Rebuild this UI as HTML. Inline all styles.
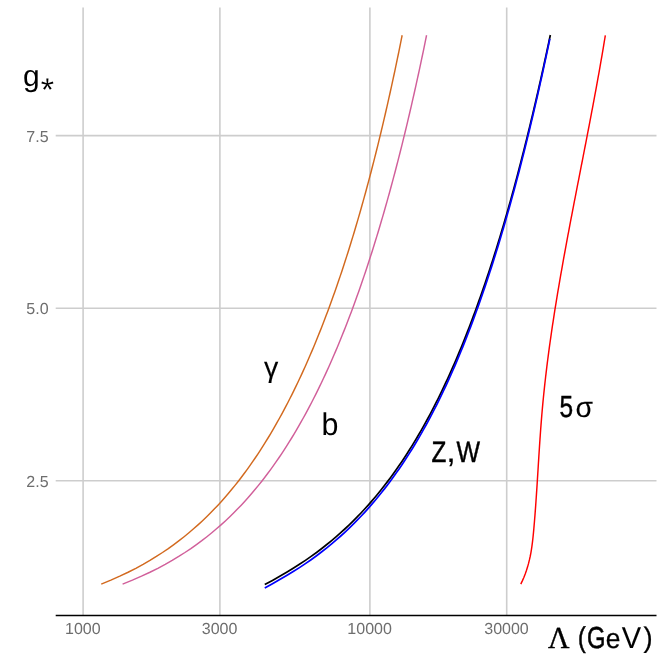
<!DOCTYPE html>
<html><head><meta charset="utf-8"><title>chart</title>
<style>
html,body{margin:0;padding:0;background:#fff;}
body{width:664px;height:664px;overflow:hidden;font-family:"Liberation Sans",sans-serif;}
svg{display:block;will-change:transform}
text{font-family:"Liberation Sans",sans-serif;text-rendering:geometricPrecision}
.tk{font-size:16px;fill:#6e6e6e}
.lb{font-size:28px;fill:#000}
.g{stroke:#cdcdcd;stroke-width:1.6;fill:none}
.c{fill:none;stroke-linecap:butt;stroke-linejoin:round}
</style></head><body>
<svg width="664" height="664" viewBox="0 0 664 664">
<g class="g">
<line x1="83.1" y1="7.6" x2="83.1" y2="615"/>
<line x1="219.9" y1="7.6" x2="219.9" y2="615"/>
<line x1="369.9" y1="7.6" x2="369.9" y2="615"/>
<line x1="506.7" y1="7.6" x2="506.7" y2="615"/>
<line x1="55.7" y1="135.6" x2="656.5" y2="135.6"/>
<line x1="55.7" y1="308.3" x2="656.5" y2="308.3"/>
<line x1="55.7" y1="480.8" x2="656.5" y2="480.8"/>
</g>
<line x1="55.7" y1="615.45" x2="656.5" y2="615.45" stroke="#000" stroke-width="1.6"/>
<path class="c" d="M101.24 584.10 L110.87 580.15 L119.79 576.20 L128.08 572.25 L135.83 568.31 L143.09 564.36 L149.93 560.41 L156.38 556.46 L162.49 552.51 L168.29 548.56 L173.81 544.61 L179.07 540.67 L184.11 536.72 L188.93 532.77 L193.56 528.82 L198.01 524.87 L202.29 520.92 L206.42 516.97 L210.41 513.03 L214.26 509.08 L217.99 505.13 L221.60 501.18 L225.10 497.23 L228.51 493.28 L231.81 489.33 L235.02 485.39 L238.15 481.44 L241.20 477.49 L244.17 473.54 L247.07 469.59 L249.90 465.64 L252.66 461.69 L255.36 457.75 L258.00 453.80 L260.58 449.85 L263.11 445.90 L265.58 441.95 L268.01 438.00 L270.39 434.05 L272.72 430.11 L275.01 426.16 L277.25 422.21 L279.46 418.26 L281.62 414.31 L283.75 410.36 L285.84 406.41 L287.90 402.47 L289.92 398.52 L291.91 394.57 L293.86 390.62 L295.79 386.67 L297.68 382.72 L299.55 378.77 L301.39 374.83 L303.20 370.88 L304.99 366.93 L306.75 362.98 L308.48 359.03 L310.19 355.08 L311.88 351.13 L313.55 347.19 L315.19 343.24 L316.81 339.29 L318.41 335.34 L319.99 331.39 L321.55 327.44 L323.09 323.49 L324.61 319.55 L326.11 315.60 L327.60 311.65 L329.06 307.70 L330.51 303.75 L331.94 299.80 L333.36 295.86 L334.76 291.91 L336.14 287.96 L337.51 284.01 L338.86 280.06 L340.20 276.11 L341.53 272.16 L342.84 268.22 L344.13 264.27 L345.41 260.32 L346.68 256.37 L347.94 252.42 L349.18 248.47 L350.41 244.52 L351.63 240.58 L352.84 236.63 L354.03 232.68 L355.21 228.73 L356.38 224.78 L357.54 220.83 L358.69 216.88 L359.83 212.94 L360.96 208.99 L362.07 205.04 L363.18 201.09 L364.28 197.14 L365.36 193.19 L366.44 189.24 L367.51 185.30 L368.56 181.35 L369.61 177.40 L370.65 173.45 L371.68 169.50 L372.70 165.55 L373.71 161.60 L374.72 157.66 L375.71 153.71 L376.70 149.76 L377.68 145.81 L378.65 141.86 L379.61 137.91 L380.56 133.96 L381.51 130.02 L382.45 126.07 L383.38 122.12 L384.31 118.17 L385.22 114.22 L386.13 110.27 L387.03 106.32 L387.93 102.38 L388.82 98.43 L389.70 94.48 L390.57 90.53 L391.44 86.58 L392.30 82.63 L393.16 78.68 L394.01 74.74 L394.85 70.79 L395.68 66.84 L396.51 62.89 L397.34 58.94 L398.16 54.99 L398.97 51.04 L399.77 47.10 L400.57 43.15 L401.37 39.20 L402.16 35.25" stroke="#d2691e" stroke-width="1.45"/>
<path class="c" d="M122.60 584.10 L132.41 580.15 L141.49 576.20 L149.94 572.25 L157.82 568.31 L165.21 564.36 L172.17 560.41 L178.73 556.46 L184.94 552.51 L190.84 548.56 L196.45 544.61 L201.80 540.67 L206.91 536.72 L211.81 532.77 L216.50 528.82 L221.01 524.87 L225.35 520.92 L229.53 516.97 L233.57 513.03 L237.46 509.08 L241.23 505.13 L244.89 501.18 L248.43 497.23 L251.86 493.28 L255.20 489.33 L258.44 485.39 L261.59 481.44 L264.67 477.49 L267.66 473.54 L270.58 469.59 L273.43 465.64 L276.21 461.69 L278.92 457.75 L281.58 453.80 L284.18 449.85 L286.72 445.90 L289.21 441.95 L291.65 438.00 L294.03 434.05 L296.38 430.11 L298.67 426.16 L300.93 422.21 L303.14 418.26 L305.31 414.31 L307.45 410.36 L309.55 406.41 L311.61 402.47 L313.63 398.52 L315.63 394.57 L317.59 390.62 L319.52 386.67 L321.42 382.72 L323.29 378.77 L325.13 374.83 L326.95 370.88 L328.74 366.93 L330.50 362.98 L332.24 359.03 L333.96 355.08 L335.65 351.13 L337.32 347.19 L338.96 343.24 L340.59 339.29 L342.19 335.34 L343.77 331.39 L345.33 327.44 L346.88 323.49 L348.40 319.55 L349.91 315.60 L351.39 311.65 L352.86 307.70 L354.32 303.75 L355.75 299.80 L357.17 295.86 L358.57 291.91 L359.96 287.96 L361.33 284.01 L362.69 280.06 L364.03 276.11 L365.36 272.16 L366.68 268.22 L367.98 264.27 L369.26 260.32 L370.54 256.37 L371.80 252.42 L373.05 248.47 L374.28 244.52 L375.51 240.58 L376.72 236.63 L377.92 232.68 L379.11 228.73 L380.28 224.78 L381.45 220.83 L382.61 216.88 L383.75 212.94 L384.88 208.99 L386.01 205.04 L387.12 201.09 L388.22 197.14 L389.32 193.19 L390.40 189.24 L391.48 185.30 L392.54 181.35 L393.60 177.40 L394.65 173.45 L395.69 169.50 L396.72 165.55 L397.74 161.60 L398.75 157.66 L399.75 153.71 L400.75 149.76 L401.74 145.81 L402.72 141.86 L403.69 137.91 L404.66 133.96 L405.62 130.02 L406.56 126.07 L407.51 122.12 L408.44 118.17 L409.37 114.22 L410.29 110.27 L411.21 106.32 L412.11 102.38 L413.01 98.43 L413.91 94.48 L414.80 90.53 L415.68 86.58 L416.55 82.63 L417.42 78.68 L418.28 74.74 L419.14 70.79 L419.99 66.84 L420.83 62.89 L421.67 58.94 L422.50 54.99 L423.33 51.04 L424.15 47.10 L424.96 43.15 L425.77 39.20 L426.58 35.25" stroke="#d15f9a" stroke-width="1.45"/>
<path class="c" d="M264.77 584.60 L272.47 580.40 L279.75 576.31 L286.65 572.29 L293.21 568.29 L299.45 564.32 L305.41 560.35 L311.10 556.40 L316.55 552.44 L321.78 548.49 L326.79 544.54 L331.62 540.59 L336.27 536.65 L340.75 532.70 L345.07 528.75 L349.24 524.81 L353.28 520.86 L357.20 516.91 L360.98 512.97 L364.66 509.02 L368.23 505.07 L371.69 501.13 L375.06 497.18 L378.34 493.23 L381.53 489.29 L384.64 485.34 L387.67 481.39 L390.63 477.45 L393.51 473.50 L396.33 469.55 L399.08 465.61 L401.77 461.66 L404.40 457.72 L406.97 453.77 L409.49 449.82 L411.96 445.88 L414.38 441.93 L416.75 437.98 L419.07 434.04 L421.35 430.09 L423.58 426.14 L425.78 422.20 L427.93 418.25 L430.05 414.30 L432.13 410.36 L434.17 406.41 L436.18 402.47 L438.16 398.52 L440.10 394.57 L442.02 390.63 L443.90 386.68 L445.75 382.73 L447.58 378.79 L449.38 374.84 L451.15 370.89 L452.90 366.95 L454.62 363.00 L456.32 359.06 L457.99 355.11 L459.64 351.16 L461.27 347.22 L462.88 343.27 L464.46 339.32 L466.03 335.38 L467.58 331.43 L469.10 327.48 L470.61 323.54 L472.10 319.59 L473.57 315.64 L475.03 311.70 L476.47 307.75 L477.89 303.81 L479.29 299.86 L480.68 295.92 L482.06 292.00 L483.42 288.08 L484.76 284.16 L486.09 280.24 L487.41 276.32 L488.71 272.40 L490.00 268.48 L491.28 264.57 L492.54 260.65 L493.79 256.73 L495.03 252.81 L496.26 248.89 L497.47 244.97 L498.68 241.05 L499.87 237.13 L501.05 233.21 L502.22 229.29 L503.38 225.37 L504.53 221.46 L505.67 217.54 L506.80 213.62 L507.93 209.70 L509.04 205.78 L510.14 201.86 L511.23 197.94 L512.32 194.02 L513.39 190.10 L514.46 186.18 L515.52 182.26 L516.56 178.35 L517.61 174.43 L518.64 170.51 L519.67 166.59 L520.68 162.67 L521.69 158.75 L522.70 154.83 L523.69 150.91 L524.68 146.99 L525.66 143.07 L526.64 139.15 L527.60 135.24 L528.56 131.32 L529.52 127.40 L530.47 123.48 L531.41 119.56 L532.34 115.64 L533.27 111.72 L534.19 107.80 L535.11 103.88 L536.02 99.96 L536.93 96.04 L537.83 92.13 L538.72 88.21 L539.61 84.29 L540.49 80.37 L541.37 76.45 L542.24 72.53 L543.11 68.61 L543.97 64.69 L544.82 60.77 L545.67 56.85 L546.52 52.93 L547.36 49.02 L548.20 45.10 L549.03 41.18 L549.86 37.26 L550.34 35.00" stroke="#000" stroke-width="1.7"/>
<path class="c" d="M264.77 587.90 L272.47 583.70 L279.75 579.61 L286.65 575.59 L293.21 571.59 L299.45 567.62 L305.41 563.65 L311.10 559.70 L316.55 555.74 L321.78 551.79 L326.79 547.84 L331.62 543.89 L336.27 539.95 L340.75 536.00 L345.07 532.05 L349.24 528.11 L353.28 524.16 L357.20 520.21 L360.98 516.27 L364.66 512.32 L368.23 508.37 L371.69 504.43 L375.06 500.48 L378.34 496.53 L381.53 492.59 L384.64 488.64 L387.67 484.69 L390.63 480.75 L393.51 476.80 L396.33 472.85 L399.08 468.91 L401.77 464.96 L404.40 461.02 L406.97 457.07 L409.49 453.12 L411.96 449.18 L414.38 445.23 L416.75 441.28 L419.07 437.34 L421.35 433.39 L423.58 429.44 L425.78 425.50 L427.93 421.55 L430.05 417.60 L432.13 413.66 L434.17 409.71 L436.18 405.77 L438.16 401.82 L440.10 397.87 L442.02 393.93 L443.90 389.98 L445.75 386.03 L447.58 382.09 L449.38 378.14 L451.15 374.19 L452.90 370.25 L454.62 366.30 L456.32 362.36 L457.99 358.41 L459.64 354.46 L461.27 350.52 L462.88 346.57 L464.46 342.62 L466.03 338.68 L467.58 334.73 L469.10 330.78 L470.61 326.84 L472.10 322.89 L473.57 318.94 L475.03 315.00 L476.47 311.05 L477.89 307.11 L479.29 303.16 L480.68 299.21 L482.06 295.27 L483.42 291.32 L484.76 287.37 L486.09 283.43 L487.41 279.48 L488.71 275.53 L490.00 271.59 L491.28 267.64 L492.54 263.69 L493.79 259.75 L495.03 255.80 L496.26 251.86 L497.47 247.91 L498.68 243.96 L499.87 240.02 L501.05 236.07 L502.22 232.12 L503.38 228.18 L504.53 224.23 L505.67 220.28 L506.80 216.34 L507.93 212.39 L509.04 208.45 L510.14 204.50 L511.23 200.55 L512.32 196.61 L513.39 192.66 L514.46 188.71 L515.52 184.77 L516.56 180.82 L517.61 176.87 L518.64 172.93 L519.67 168.98 L520.68 165.03 L521.69 161.09 L522.70 157.14 L523.69 153.20 L524.68 149.25 L525.66 145.30 L526.64 141.36 L527.60 137.41 L528.56 133.46 L529.52 129.52 L530.47 125.57 L531.41 121.62 L532.34 117.68 L533.27 113.73 L534.19 109.79 L535.11 105.84 L536.02 101.89 L536.93 97.95 L537.83 94.00 L538.72 90.05 L539.61 86.11 L540.49 82.16 L541.37 78.21 L542.24 74.27 L543.11 70.32 L543.97 66.37 L544.82 62.43 L545.67 58.48 L546.52 54.54 L547.36 50.59 L548.20 46.64 L549.03 42.70 L549.86 38.75" stroke="#0000ff" stroke-width="1.7"/>
<path class="c" d="M520.79 584.10 L522.45 580.65 L523.95 577.20 L525.30 573.75 L526.51 570.29 L527.59 566.84 L528.56 563.39 L529.41 559.94 L530.17 556.49 L530.84 553.04 L531.42 549.58 L531.94 546.13 L532.40 542.68 L532.80 539.23 L533.17 535.78 L533.50 532.33 L533.82 528.87 L534.12 525.42 L534.41 521.97 L534.69 518.52 L534.97 515.07 L535.23 511.62 L535.49 508.17 L535.74 504.71 L535.98 501.26 L536.22 497.81 L536.45 494.36 L536.68 490.91 L536.91 487.46 L537.13 484.00 L537.35 480.55 L537.56 477.10 L537.78 473.65 L537.99 470.20 L538.21 466.75 L538.42 463.29 L538.64 459.84 L538.85 456.39 L539.07 452.94 L539.30 449.49 L539.52 446.04 L539.75 442.59 L539.99 439.13 L540.23 435.68 L540.47 432.23 L540.72 428.78 L540.98 425.33 L541.25 421.88 L541.53 418.42 L541.81 414.97 L542.11 411.52 L542.41 408.07 L542.73 404.62 L543.05 401.17 L543.39 397.72 L543.74 394.26 L544.09 390.81 L544.46 387.36 L544.83 383.91 L545.22 380.46 L545.61 377.01 L546.02 373.55 L546.43 370.10 L546.85 366.65 L547.28 363.20 L547.72 359.75 L548.16 356.30 L548.62 352.84 L549.08 349.39 L549.55 345.94 L550.03 342.49 L550.52 339.04 L551.01 335.59 L551.51 332.14 L552.02 328.68 L552.53 325.23 L553.06 321.78 L553.59 318.33 L554.12 314.88 L554.66 311.43 L555.21 307.97 L555.76 304.52 L556.32 301.07 L556.89 297.62 L557.46 294.17 L558.04 290.72 L558.62 287.26 L559.21 283.81 L559.80 280.36 L560.40 276.91 L561.00 273.46 L561.61 270.01 L562.22 266.56 L562.83 263.10 L563.45 259.65 L564.08 256.20 L564.70 252.75 L565.34 249.30 L565.97 245.85 L566.61 242.39 L567.25 238.94 L567.89 235.49 L568.54 232.04 L569.19 228.59 L569.84 225.14 L570.50 221.68 L571.16 218.23 L571.82 214.78 L572.48 211.33 L573.14 207.88 L573.81 204.43 L574.47 200.98 L575.14 197.52 L575.81 194.07 L576.48 190.62 L577.15 187.17 L577.83 183.72 L578.50 180.27 L579.17 176.81 L579.85 173.36 L580.52 169.91 L581.19 166.46 L581.87 163.01 L582.54 159.56 L583.21 156.11 L583.89 152.65 L584.56 149.20 L585.23 145.75 L585.90 142.30 L586.57 138.85 L587.24 135.40 L587.90 131.94 L588.57 128.49 L589.23 125.04 L589.89 121.59 L590.55 118.14 L591.21 114.69 L591.86 111.23 L592.51 107.78 L593.16 104.33 L593.81 100.88 L594.45 97.43 L595.09 93.98 L595.73 90.53 L596.36 87.07 L596.99 83.62 L597.62 80.17 L598.24 76.72 L598.86 73.27 L599.47 69.82 L600.08 66.36 L600.68 62.91 L601.29 59.46 L601.88 56.01 L602.47 52.56 L603.06 49.11 L603.64 45.65 L604.21 42.20 L604.78 38.75 L605.34 35.30" stroke="#ff0000" stroke-width="1.45"/>
<g class="tk" text-anchor="end">
<text transform="translate(48.6 142) scale(1 1)">7.5</text>
<text transform="translate(48.6 314) scale(1 1)">5.0</text>
<text transform="translate(48.6 487) scale(1 1)">2.5</text>
</g>
<g class="tk" text-anchor="middle">
<text transform="translate(82.8 634) scale(1 1)">1000</text>
<text transform="translate(219.6 634) scale(1 1)">3000</text>
<text transform="translate(369.6 634) scale(1 1)">10000</text>
<text transform="translate(506.5 634) scale(1 1)">30000</text>
</g>
<text x="23" y="85.8" style="font-size:30px">g</text>
<g fill="#000"><polygon points="48.05,84.10 48.45,78.40 46.35,78.40 46.75,84.10"/><polygon points="47.57,83.47 41.97,81.58 41.43,83.62 47.23,84.73"/><polygon points="47.57,84.73 53.37,83.62 52.83,81.58 47.23,83.47"/><polygon points="46.86,83.73 43.13,88.51 44.87,89.69 47.94,84.47"/><polygon points="46.86,84.47 49.93,89.69 51.67,88.51 47.94,83.73"/><circle cx="47.4" cy="84.1" r="0.9"/></g>
<g fill="#000"><text transform="translate(264.00 377.19) scale(0.953 0.952)" style="stroke:#000;stroke-width:0.12px;font-size:30px">γ</text>
<text transform="translate(321.54 435.19) scale(1.015 1.053)" style="font-size:30px">b</text>
<text transform="translate(559.42 417.00) scale(0.816 1.022)" style="stroke:#000;stroke-width:0.48px;font-size:30px">5</text>
<text transform="translate(575.61 417.02) scale(0.946 0.954)" style="stroke:#000;stroke-width:0.14px;font-size:30px">σ</text>
<text transform="translate(431.53 462.00) scale(0.809 0.984)" style="stroke:#000;stroke-width:0.50px;font-size:30px">Z</text>
<text transform="translate(456.49 462.00) scale(0.830 0.984)" style="stroke:#000;stroke-width:0.44px;font-size:30px">W</text>
<text transform="translate(446.10 462.40) scale(1.200 1.100)" style="font-size:30px">,</text>
<text transform="translate(587.01 647.65) scale(0.791 1.012)" style="stroke:#000;stroke-width:0.54px;font-size:30px">G</text>
<text transform="translate(605.78 647.65) scale(0.881 0.937)" style="stroke:#000;stroke-width:0.31px;font-size:30px">e</text>
<text transform="translate(621.67 647.65) scale(0.967 1.008)" style="stroke:#000;stroke-width:0.09px;font-size:30px">V</text>
<text transform="translate(577.97 647.11) scale(0.767 0.948)" style="stroke:#000;stroke-width:0.60px;font-size:30px">(</text>
<text transform="translate(643.54 647.11) scale(0.918 0.948)" style="stroke:#000;stroke-width:0.21px;font-size:30px">)</text>
<text transform="translate(547.9 647.8) scale(0.975 1)" style="font-family:'Liberation Serif',serif;font-size:30.5px;stroke:#000;stroke-width:0.35px">Λ</text></g>
</svg>
</body></html>
